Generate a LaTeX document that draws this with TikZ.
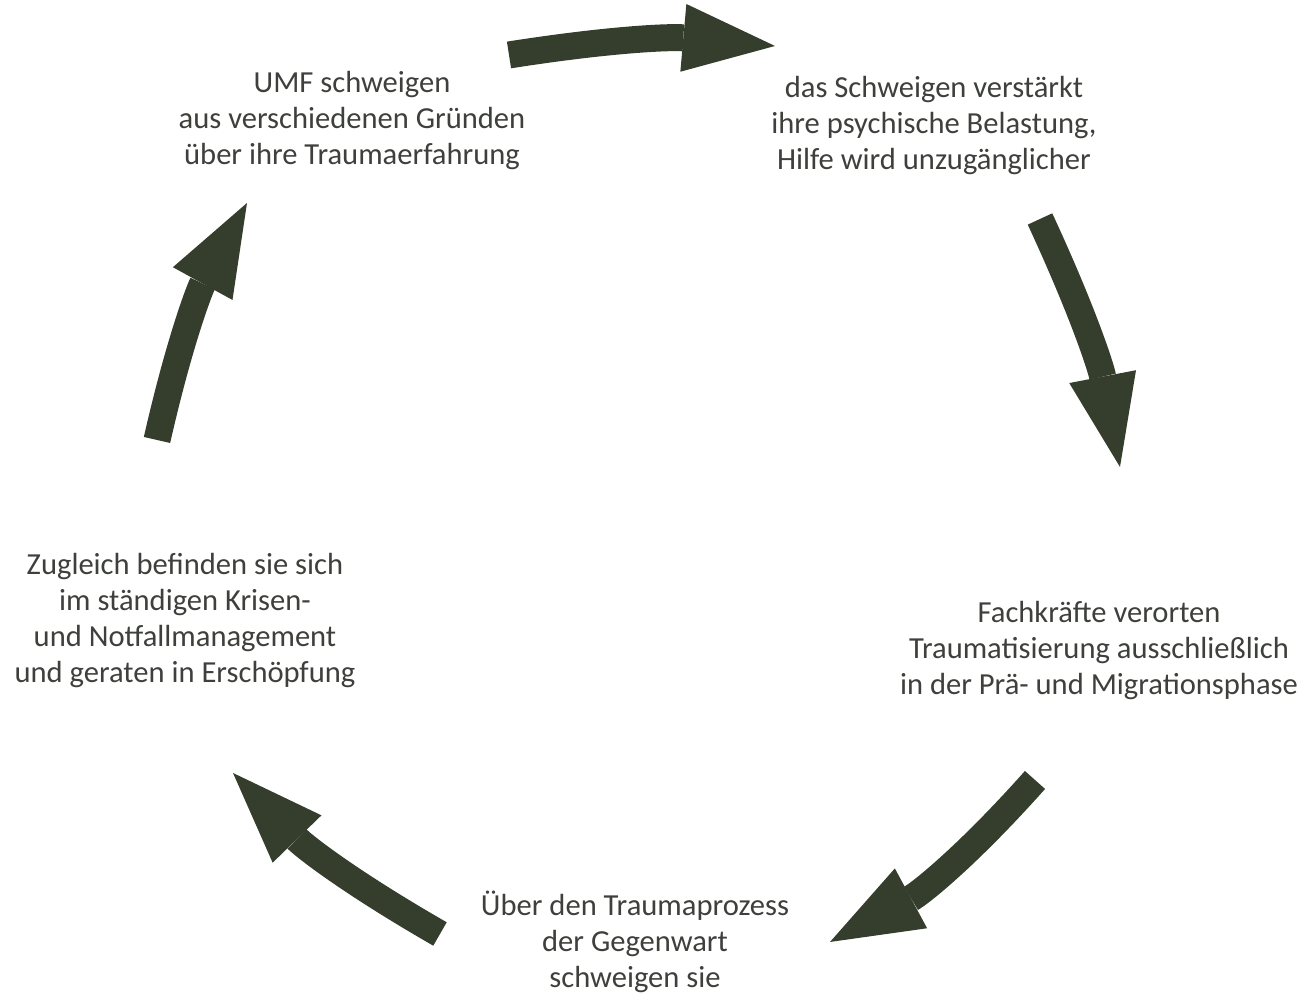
\documentclass[tikz,border=0pt]{standalone}
\usepackage{fontspec}
\setmainfont{Carlito}
\usepackage{tikz}
\usetikzlibrary{arrows.meta}
\definecolor{arrowgreen}{RGB}{53,62,45}
\definecolor{textgray}{RGB}{62,64,60}

\begin{document}
\begin{tikzpicture}[x=0.1mm,y=0.1mm]
\useasboundingbox (0,0) rectangle (1305,993);

\begin{scope}[every node/.style={align=center,text=textgray,
              font=\fontsize{8.7}{10.24}\selectfont}]
    \node (Silence) at (352,872) {UMF schweigen\\aus verschiedenen Gründen\\über ihre Traumaerfahrung};
    \node (Burden) at (934,867) {das Schweigen verstärkt\\ihre psychische Belastung,\\Hilfe wird unzugänglicher};
    \node (Experts) at (1099,342) {Fachkräfte verorten\\Traumatisierung ausschließlich\\in der Prä- und Migrationsphase};
    \node (Present) at (635,51) {Über den Traumaprozess\\der Gegenwart\\schweigen sie};
    \node (Crisis) at (185,372) {Zugleich befinden sie sich\\im ständigen Krisen-\\und Notfallmanagement\\und geraten in Erschöpfung};
\end{scope}

% arrow ends
\coordinate (SilenceOut) at (509,938);
\coordinate (BurdenIn) at (775,947);
\coordinate (BurdenOut) at (1040,774);
\coordinate (ExpertsIn) at (1120,526);
\coordinate (ExpertsOut) at (1035,213);
\coordinate (PresentIn) at (830,51);
\coordinate (PresentOut) at (440,59);
\coordinate (CrisisIn) at (233,220);
\coordinate (CrisisOut) at (157,553);
\coordinate (SilenceIn) at (247,790);

\begin{scope}[>={Triangle[length=0.92cm,width=0.68cm,line width=0pt]},
              every edge/.style={draw=arrowgreen,fill=arrowgreen,line width=0.27cm}]
    \path [->] (SilenceOut) edge[bend left=7] (BurdenIn);
    \path [->] (BurdenOut) edge[bend left=7] (ExpertsIn);
    \path [->] (ExpertsOut) edge[bend left=10] (PresentIn);
    \path [->] (PresentOut) edge[bend left=8] (CrisisIn);
    \path [->] (CrisisOut) edge[bend left=8] (SilenceIn);
\end{scope}
\end{tikzpicture}
\end{document}
